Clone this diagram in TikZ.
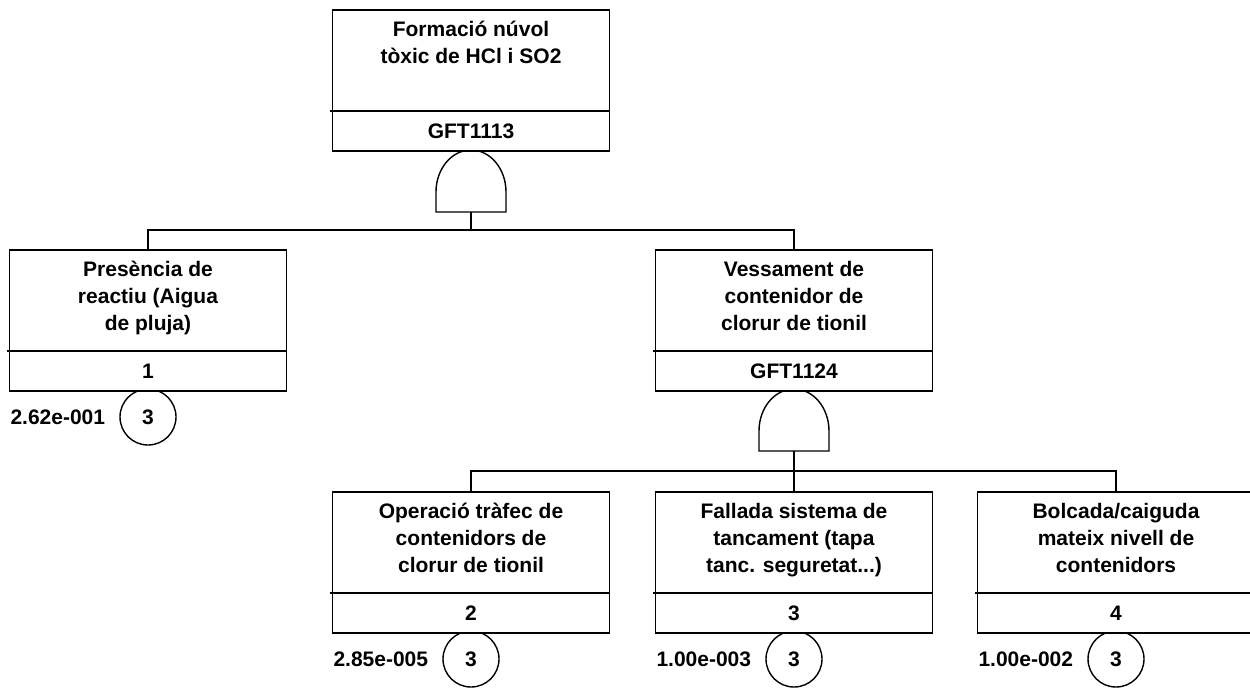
\documentclass[tikz,border=0pt]{standalone}
\usepackage{fontspec}
\setmainfont{Liberation Sans}
\begin{document}
\begin{tikzpicture}[
  x=1pt, y=1pt,
  ln/.style={line width=1.4pt},
  evbox/.style={draw, fill=white, line width=1.4pt, minimum width=277pt, minimum height=141pt, inner sep=0pt, outer sep=0pt},
  evtext/.style={anchor=north, align=center, inner sep=0pt, font=\fontsize{21}{27}\selectfont\bfseries},
  idtext/.style={inner sep=0pt, font=\fontsize{21}{27}\selectfont\bfseries},
  circ/.style={draw, fill=white, circle, minimum size=56pt, inner sep=0pt, line width=1.4pt, font=\fontsize{21}{27}\selectfont\bfseries},
  prob/.style={anchor=east, inner sep=0pt, font=\fontsize{21}{27}\selectfont\bfseries},
  gate/.style={draw, fill=white, line width=1.4pt},
]
\useasboundingbox (0,0) rectangle (1250,-689);
\clip (0,0) rectangle (1250,-689);

% gates
\coordinate (g1) at (471,-212);
\coordinate (g2) at (794,-451);
\draw[gate] ([xshift=-35pt]g1) -- ++(0,20) arc[start angle=180, end angle=0, x radius=35, y radius=42] -- ([xshift=35pt]g1) -- cycle;
\draw[gate] ([xshift=-35pt]g2) -- ++(0,20) arc[start angle=180, end angle=0, x radius=35, y radius=42] -- ([xshift=35pt]g2) -- cycle;

% circles and probabilities
\node[circ] (c1) at (148,-417) {3};
\node[circ] (c3) at (471,-659) {3};
\node[circ] (c4) at (794,-659) {3};
\node[circ] (c5) at (1116,-659) {3};
\node[prob] (p1) at ([xshift=-14pt]c1.west) {2.62e-001};
\node[prob] (p3) at ([xshift=-14pt]c3.west) {2.85e-005};
\node[prob] (p4) at ([xshift=-14pt]c4.west) {1.00e-003};
\node[prob] (p5) at ([xshift=-14pt]c5.west) {1.00e-002};

% boxes
\node[evbox, anchor=north] (t)  at (471,-10)  {};
\node[evbox, anchor=north] (e1) at (148,-250) {};
\node[evbox, anchor=north] (e2) at (794,-250) {};
\node[evbox, anchor=north] (e3) at (471,-492) {};
\node[evbox, anchor=north] (e4) at (794,-492) {};
\node[evbox, anchor=north] (e5) at (1116,-492) {};

\foreach \b in {t,e1,e2,e3,e4,e5}{
  \draw[ln] ([xshift=-3pt,yshift=-101pt]\b.north west) -- ([yshift=-101pt]\b.north east);
}

% texts
\node[evtext] (tt)  at ([yshift=-6pt]t.north)  {\rule{0pt}{20pt}Formació núvol\\tòxic de HCl i SO2};
\node[evtext] (e1t) at ([yshift=-6pt]e1.north) {\rule{0pt}{20pt}Presència de\\reactiu (Aigua\\de pluja)};
\node[evtext] (e2t) at ([yshift=-6pt]e2.north) {\rule{0pt}{20pt}Vessament de\\contenidor de\\clorur de tionil};
\node[evtext] (e3t) at ([yshift=-6pt]e3.north) {\rule{0pt}{20pt}Operació tràfec de\\contenidors de\\clorur de tionil};
\node[evtext] (e4t) at ([yshift=-6pt]e4.north) {\rule{0pt}{20pt}Fallada sistema de\\tancament (tapa\\tanc. seguretat...)};
\node[evtext] (e5t) at ([yshift=-6pt]e5.north) {\rule{0pt}{20pt}Bolcada/caiguda\\mateix nivell de\\contenidors};

\node[idtext] (ti)  at ([yshift=-121pt]t.north)  {GFT1113};
\node[idtext] (e1i) at ([yshift=-121pt]e1.north) {1};
\node[idtext] (e2i) at ([yshift=-121pt]e2.north) {GFT1124};
\node[idtext] (e3i) at ([yshift=-121pt]e3.north) {2};
\node[idtext] (e4i) at ([yshift=-121pt]e4.north) {3};
\node[idtext] (e5i) at ([yshift=-121pt]e5.north) {4};

% connectors
\coordinate (bar1) at (471,-230);
\coordinate (bar2) at (794,-471);
\draw[ln] (g1) -- (bar1);
\draw[ln] (e1.north) |- (bar1) -| (e2.north);
\draw[ln] (g2) -- (e4.north);
\draw[ln] (e3.north) |- (bar2) -| (e5.north);
\end{tikzpicture}
\end{document}
